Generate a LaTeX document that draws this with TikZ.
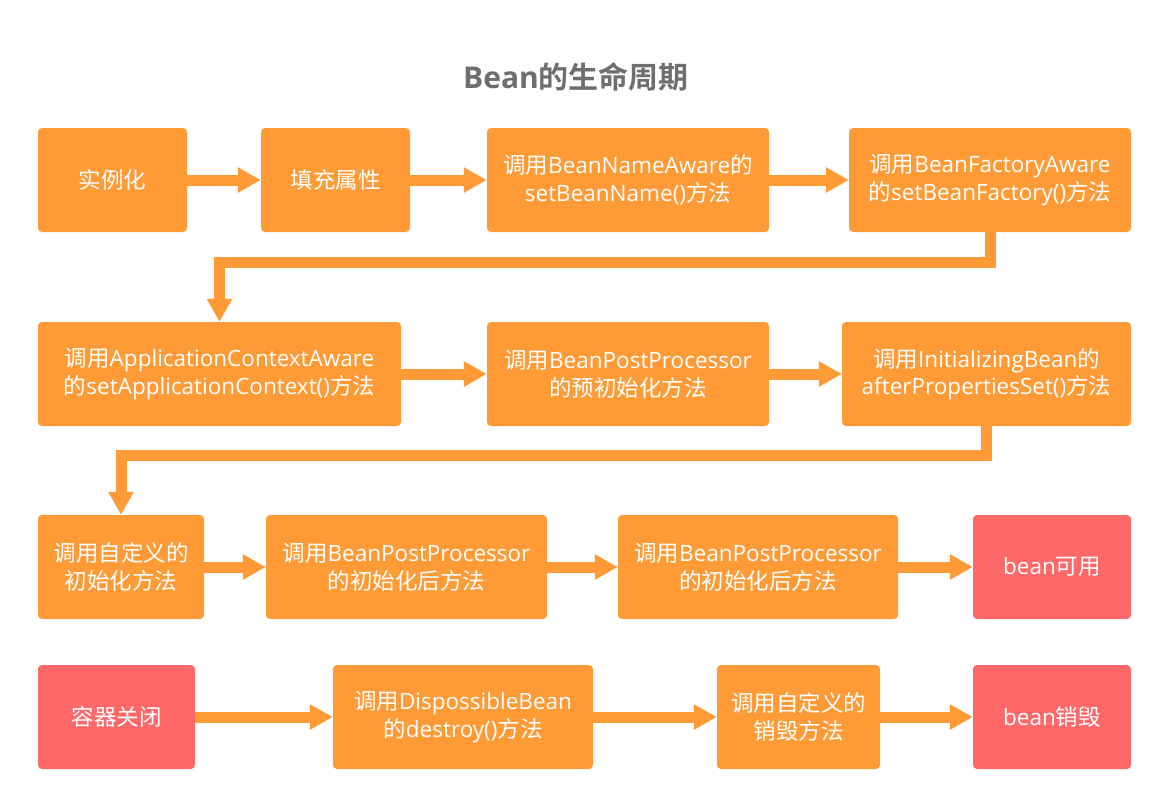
\documentclass[tikz,border=0pt]{standalone}
\usepackage{fontspec}
\setmainfont{Open Sans}
\newfontfamily\cjk{Noto Sans CJK SC}[BoldFont={Noto Sans CJK SC Bold}]
\newcommand{\C}[1]{{\cjk #1}}
\usetikzlibrary{arrows.meta}
\definecolor{org}{HTML}{FF9B36}
\definecolor{rd}{HTML}{FF6868}
\definecolor{ttl}{HTML}{6E6E6E}
\begin{document}
\begin{tikzpicture}[x=1pt,y=-1pt,
  box/.style={fill=org,draw=none,rounded corners=4pt,text=white,align=center,
    minimum height=104pt,inner sep=0pt,font=\fontsize{22.5}{27.5}\selectfont},
  redbox/.style={box,fill=rd},
  arr/.style={draw=org,line width=11pt,-{Triangle[width=24pt,length=23pt]}}]
\useasboundingbox (0,0) rectangle (1169,806);
\node[text=ttl,font=\fontsize{30}{34}\selectfont\bfseries] (title) at (576,77) {Bean\C{的生命周期}};
% row 1
\node[box,minimum width=149pt] (a) at (112.5,180) {\C{实例化}};
\node[box,minimum width=149pt] (b) at (335.5,180) {\C{填充属性}};
\node[box,minimum width=282pt] (c) at (628,180) {\C{调用}BeanNameAware\C{的}\\setBeanName()\C{方法}};
\node[box,minimum width=282pt] (d) at (990,180) {\C{调用}BeanFactoryAware\\\C{的}setBeanFactory()\C{方法}};
% row 2
\node[box,minimum width=363pt] (e) at (219.5,374) {\C{调用}ApplicationContextAware\\\C{的}setApplicationContext()\C{方法}};
\node[box,minimum width=282pt] (f) at (628,374) {\C{调用}BeanPostProcessor\\\C{的预初始化方法}};
\node[box,minimum width=289pt] (g) at (986.5,374) {\C{调用}InitializingBean\C{的}\\afterPropertiesSet()\C{方法}};
% row 3
\node[box,minimum width=166pt] (h) at (121,567) {\C{调用自定义的}\\\C{初始化方法}};
\node[box,minimum width=281pt] (i) at (406.5,567) {\C{调用}BeanPostProcessor\\\C{的初始化后方法}};
\node[box,minimum width=280pt] (j) at (758,567) {\C{调用}BeanPostProcessor\\\C{的初始化后方法}};
\node[redbox,minimum width=158pt] (k) at (1052,567) {bean\C{可用}};
% row 4
\node[redbox,minimum width=157pt] (l) at (116.5,717) {\C{容器关闭}};
\node[box,minimum width=260pt] (m) at (463,717) {\C{调用}DispossibleBean\\\C{的}destroy()\C{方法}};
\node[box,minimum width=163pt] (n) at (798.5,717) {\C{调用自定义的}\\\C{销毁方法}};
\node[redbox,minimum width=158pt] (o) at (1052,717) {bean\C{销毁}};
% connectors
\draw[arr] (a) -- (b);
\draw[arr] (b) -- (c);
\draw[arr] (c) -- (d);
\draw[arr] (d.south) -- ++(0,30) -| (e.north);
\draw[arr] (e) -- (f);
\draw[arr] (f) -- (g);
\draw[arr] (g.south) -- ++(0,29) -| (h.north);
\draw[arr] (h) -- (i);
\draw[arr] (i) -- (j);
\draw[arr] (j) -- (k);
\draw[arr] (l) -- (m);
\draw[arr] (m) -- (n);
\draw[arr] (n) -- (o);
\end{tikzpicture}
\end{document}
